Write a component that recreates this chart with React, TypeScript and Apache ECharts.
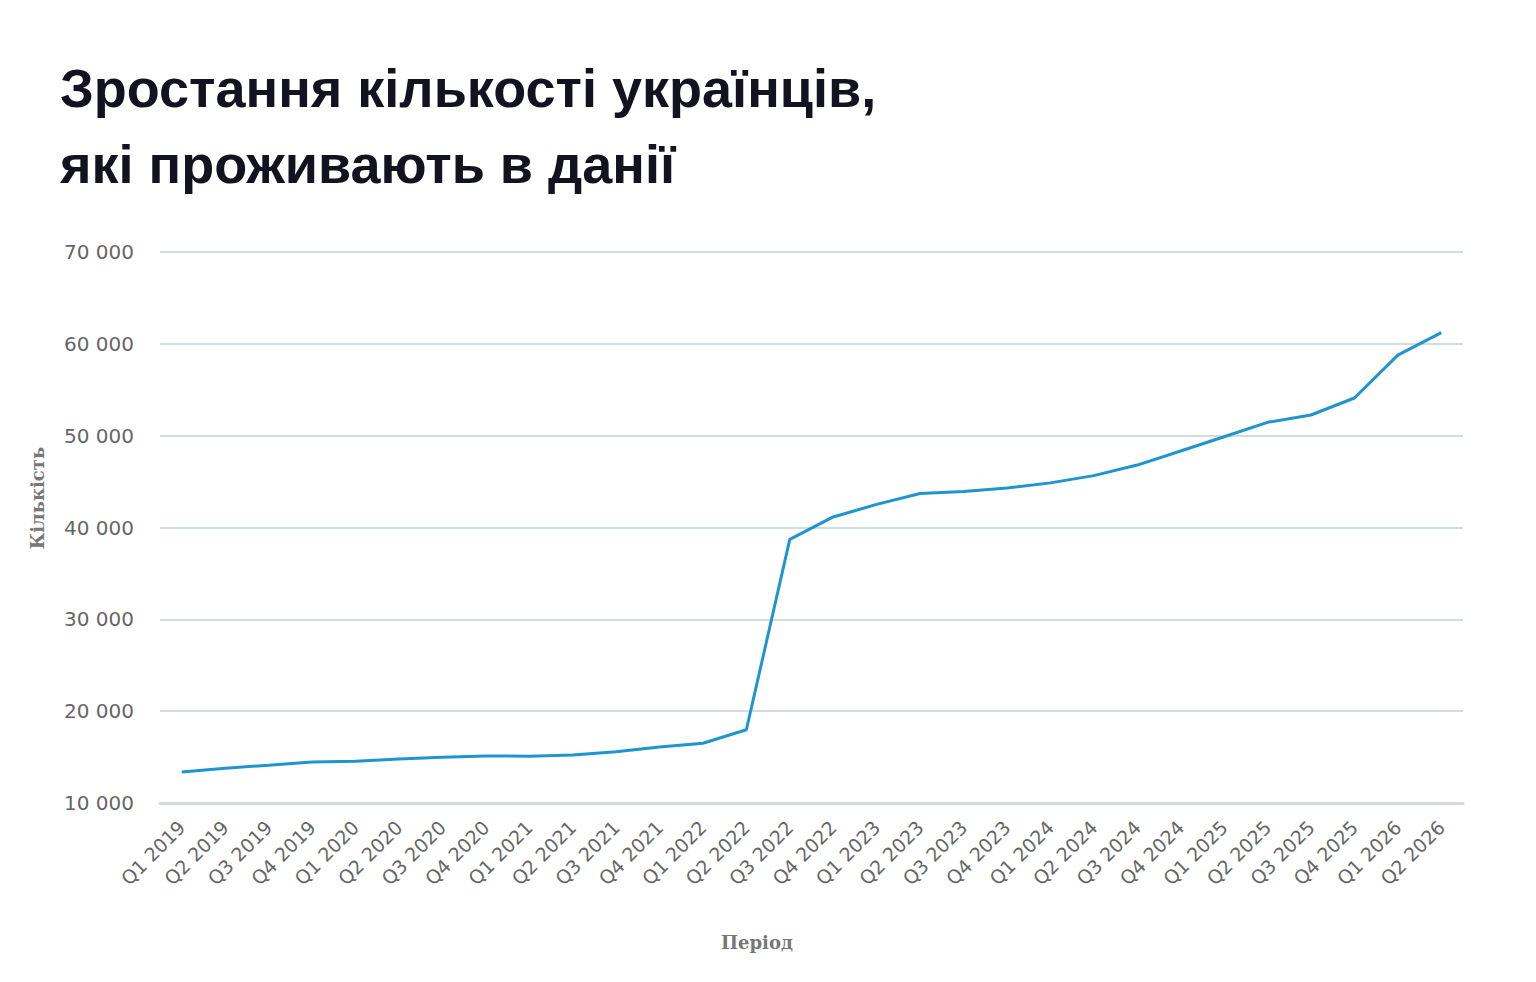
import React, { useEffect, useRef } from "react";
import * as echarts from "echarts";

// Quarterly periods on the category axis
const periods = [
  "Q1 2019", "Q2 2019", "Q3 2019", "Q4 2019",
  "Q1 2020", "Q2 2020", "Q3 2020", "Q4 2020",
  "Q1 2021", "Q2 2021", "Q3 2021", "Q4 2021",
  "Q1 2022", "Q2 2022", "Q3 2022", "Q4 2022",
  "Q1 2023", "Q2 2023", "Q3 2023", "Q4 2023",
  "Q1 2024", "Q2 2024", "Q3 2024", "Q4 2024",
  "Q1 2025", "Q2 2025", "Q3 2025", "Q4 2025",
  "Q1 2026", "Q2 2026",
];

// Number of Ukrainians living in Denmark per quarter
const residents = [
  13380, 13790, 14120, 14460,
  14550, 14780, 14980, 15110,
  15100, 15220, 15570, 16090,
  16510, 17980, 38700, 41150,
  42520, 43700, 43920, 44300,
  44860, 45650, 46800, 48330,
  49880, 51450, 52250, 54100,
  58770, 61220,
];

// Value axis range
const yMin = 10000;
const yMax = 70000;
const yStep = 10000;

const titleLines = ["Зростання кількості українців,", "які проживають в данії"];
const yAxisTitle = "Кількість";
const xAxisTitle = "Період";

const formatThousands = (v: number) =>
  String(v).replace(/\B(?=(\d{3})+(?!\d))/g, " ");

const titleFont = "bold 54px 'Liberation Sans', Arial, sans-serif";
const axisTitleFont = "bold 18px 'DejaVu Serif', serif";

export default function App() {
  const ref = useRef<HTMLDivElement>(null);

  useEffect(() => {
    document.body.style.margin = "0";
    if (!ref.current) return;
    const chart = echarts.init(ref.current, null, { renderer: "svg" });
    chart.setOption({
      animation: false,
      backgroundColor: "#ffffff",
      grid: { left: 160, right: 73, top: 252, bottom: 179, containLabel: false },
      xAxis: {
        type: "category",
        data: periods,
        boundaryGap: true,
        axisLine: { show: true, lineStyle: { color: "#d6dadd", width: 3 } },
        axisTick: { show: false },
        axisLabel: {
          rotate: 45,
          margin: 21,
          interval: 0,
          color: "#666666",
          fontFamily: "'DejaVu Sans'",
          fontSize: 19,
        },
      },
      yAxis: {
        type: "value",
        min: yMin,
        max: yMax,
        interval: yStep,
        axisLine: { show: false },
        axisTick: { show: false },
        axisLabel: {
          margin: 26,
          color: "#666666",
          fontFamily: "'DejaVu Sans'",
          fontSize: 20,
          formatter: (v: number) => formatThousands(v),
        },
        splitLine: { lineStyle: { color: "#c5ced6", width: 1.5 } },
      },
      series: [
        {
          type: "line",
          data: residents,
          showSymbol: false,
          smooth: false,
          lineStyle: { color: "#1e95cf", width: 3 },
          itemStyle: { color: "#1e95cf" },
        },
      ],
      graphic: [
        {
          type: "text",
          left: 60,
          top: 61,
          style: { text: titleLines[0], font: titleFont, fill: "#13131f" },
        },
        {
          type: "text",
          left: 60,
          top: 137,
          style: { text: titleLines[1], font: titleFont, fill: "#13131f" },
        },
        {
          type: "text",
          x: 37,
          y: 498,
          rotation: Math.PI / 2,
          style: {
            text: yAxisTitle,
            font: axisTitleFont,
            fill: "#777777",
            align: "center",
            verticalAlign: "middle",
          },
        },
        {
          type: "text",
          x: 757,
          y: 942,
          style: {
            text: xAxisTitle,
            font: axisTitleFont,
            fill: "#777777",
            align: "center",
            verticalAlign: "middle",
          },
        },
      ],
    });
    return () => chart.dispose();
  }, []);

  return <div ref={ref} style={{ width: 1536, height: 982 }} />;
}
